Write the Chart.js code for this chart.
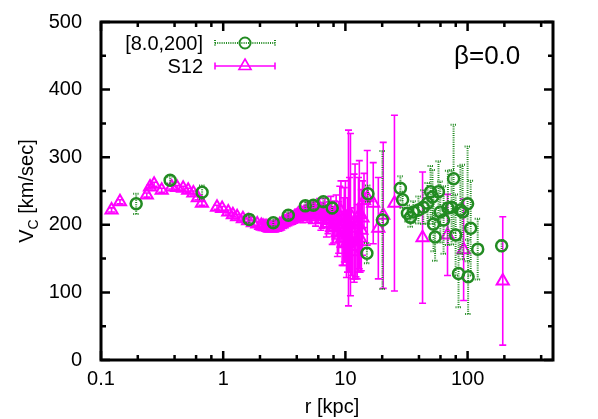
<!DOCTYPE html>
<html><head><meta charset="utf-8">
<script src="https://cdn.jsdelivr.net/npm/chart.js@4.4.1/dist/chart.umd.min.js"></script>
<style>html,body{margin:0;padding:0;background:#fff;}canvas{display:block;}</style>
</head><body>
<canvas id="c" width="598" height="419"></canvas>
<script>
const FONT = "'Liberation Sans', Arial, Helvetica, sans-serif";

// ---- data ----
const greenLabel = '[8.0,200]';
const greenR   = [0.194,0.368,0.672,1.63,2.57,3.41,4.7,5.47,6.6,7.8,15.3,15.0,20.1,28.2,29.4,32.2,34.1,36.0,39.6,43.4,47.0,49.8,51.6,52.6,54.2,57.8,59.8,63.6,69.0,74.0,76.8,79.8,84.3,87.3,91.0,100,101,106,121,190];
const greenV   = [231,266,248,208,203,214,228,229,234,225,246,158,207,254,237,217,211,219,222,226,232,249,241,201,182,249,219,207,225,226,268,185,128,222,219,231,123,195,164,169];
const greenErr = [15,5,10,5,5,5,6,6,6,8,12,15,102,18,12,12,14,16,20,25,30,38,40,40,35,45,45,50,55,55,80,60,50,65,70,85,55,70,45,8];

const s12Label = 'S12';
const s12R   = [0.122,0.143,0.237,0.252,0.272,0.314,0.379,0.42,0.47,0.517,0.57,0.62,0.67,0.89,0.98,1.1,1.2,1.3,1.45,1.6,1.75,1.9,2.05,2.12,2.2,2.28,2.35,2.42,2.5,2.58,2.65,2.72,2.8,2.9,3.0,3.1,3.2,3.32,3.45,3.58,3.7,3.82,3.95,4.07,4.2,4.35,4.5,4.65,4.8,4.95,5.1,5.25,5.4,5.55,5.7,5.85,6.0,6.15,6.3,6.45,6.6,6.8,7.0,7.2,7.4,7.6,7.8,8.0,8.2,8.4,8.6,8.8,9.0,9.2,9.4,9.6,9.8,10.0,10.2,10.4,10.6,10.8,11.0,11.2,11.5,11.8,12.0,12.2,12.5,12.8,13.0,13.2,13.5,13.8,14.2,15.1,16.9,18.6,20.4,25.2,42.8,68.5,92.8,194];
const s12V   = [222,234,244,256,260,251,256,255,254,251,247,240,232,226,224,219,215,212,209,206,203,201,199,198,197,197,196,195,195,196,196,197,198,200,201,203,204,206,207,208,209,211,212,214,215,217,213,216,219,222,216,214,221,223,212,216,218,224,208,212,215,220,202,208,212,218,196,200,207,214,188,196,212,220,180,190,200,205,172,185,210,200,215,175,160,195,205,168,175,200,215,180,192,210,236,240,232,195,214,232,181,185,163,117];
const s12Err = [3,3,3,3,3,3,3,3,3,3,3,3,3,3,3,3,3,3,4,4,4,4,4,4,5,5,5,5,5,5,5,6,6,6,6,7,7,7,7,8,8,8,8,9,9,10,10,10,10,11,12,12,12,13,14,14,15,15,16,17,18,19,20,21,22,24,25,27,28,30,35,38,45,45,40,50,55,60,50,55,130,70,120,50,40,80,85,45,55,70,80,50,60,55,40,70,60,75,108,130,97,60,75,95];

const xTickValues = [0.1, 1, 10, 100];
const yTickValues = [0, 100, 200, 300, 400, 500];
const xTitle = 'r [kpc]';
const yTitleParts = ['V', 'C', ' [km/sec]'];
const annotationText = 'β=0.0';

const GREEN = '#228b22';
const MAGENTA = '#ff00ff';

function toPoints(rs, vs) { return rs.map((r, i) => ({ x: r, y: vs[i] })); }

const errorBars = {
  id: 'errorBars',
  beforeDatasetDraw(chart, args) {
    const ds = chart.data.datasets[args.index];
    if (!ds.errors) return;
    const xs = chart.scales.x, ys = chart.scales.y, ctx = chart.ctx, a = chart.chartArea;
    ctx.save();
    ctx.beginPath(); ctx.rect(a.left, a.top, a.right - a.left, a.bottom - a.top); ctx.clip();
    ctx.strokeStyle = ds.borderColor;
    ctx.lineWidth = ds.errLineWidth;
    ctx.setLineDash(ds.errDash);
    const cap = ds.errCap;
    ds.data.forEach((p, i) => {
      const e = ds.errors[i];
      const px = xs.getPixelForValue(p.x);
      const y1 = ys.getPixelForValue(p.y - e), y2 = ys.getPixelForValue(p.y + e);
      ctx.beginPath();
      ctx.moveTo(px, y1); ctx.lineTo(px, y2);
      ctx.moveTo(px - cap, y1); ctx.lineTo(px + cap, y1);
      ctx.moveTo(px - cap, y2); ctx.lineTo(px + cap, y2);
      ctx.stroke();
    });
    ctx.restore();
  }
};

const decor = {
  id: 'decor',
  afterDraw(chart) {
    const ctx = chart.ctx, a = chart.chartArea, xs = chart.scales.x, ys = chart.scales.y;
    ctx.save();
    ctx.strokeStyle = '#000';
    ctx.lineWidth = 2.5;
    const major = 9, minor = 5;
    ctx.beginPath();
    xTickValues.forEach(d => {
      const px = xs.getPixelForValue(d);
      ctx.moveTo(px, a.bottom); ctx.lineTo(px, a.bottom - major);
      ctx.moveTo(px, a.top); ctx.lineTo(px, a.top + major);
      [2, 4, 6, 8].forEach(m => {
        const v = m * d;
        if (v >= xs.max) return;
        const q = xs.getPixelForValue(v);
        ctx.moveTo(q, a.bottom); ctx.lineTo(q, a.bottom - minor);
        ctx.moveTo(q, a.top); ctx.lineTo(q, a.top + minor);
      });
    });
    yTickValues.forEach((v, i) => {
      const py = ys.getPixelForValue(v);
      ctx.moveTo(a.left, py); ctx.lineTo(a.left + major, py);
      ctx.moveTo(a.right, py); ctx.lineTo(a.right - major, py);
      if (i < yTickValues.length - 1) {
        const q = ys.getPixelForValue((v + yTickValues[i + 1]) / 2);
        ctx.moveTo(a.left, q); ctx.lineTo(a.left + minor, q);
        ctx.moveTo(a.right, q); ctx.lineTo(a.right - minor, q);
      }
    });
    ctx.stroke();
    ctx.lineWidth = 3;
    ctx.strokeRect(a.left, a.top, a.right - a.left, a.bottom - a.top);

    ctx.fillStyle = '#000';
    ctx.font = '20px ' + FONT;
    ctx.textAlign = 'center';
    ctx.textBaseline = 'alphabetic';
    ctx.fillText(xTitle, (a.left + a.right) / 2 + 5, 413);

    ctx.save();
    ctx.translate(33, (a.top + a.bottom) / 2);
    ctx.rotate(-Math.PI / 2);
    ctx.font = '20px ' + FONT;
    const w0 = ctx.measureText(yTitleParts[0]).width;
    ctx.font = '14px ' + FONT;
    const w1 = ctx.measureText(yTitleParts[1]).width;
    ctx.font = '20px ' + FONT;
    const w2 = ctx.measureText(yTitleParts[2]).width;
    let sx = -(w0 + w1 + w2) / 2;
    ctx.textAlign = 'left';
    ctx.fillText(yTitleParts[0], sx, 0); sx += w0;
    ctx.font = '14px ' + FONT;
    ctx.fillText(yTitleParts[1], sx, 5); sx += w1;
    ctx.font = '20px ' + FONT;
    ctx.fillText(yTitleParts[2], sx, 0);
    ctx.restore();

    ctx.font = '26px ' + FONT;
    ctx.textAlign = 'left';
    ctx.fillText(annotationText, 454, 64);

    const dsets = chart.data.datasets;
    const rows = [43, 66];
    const tx = 203, l0 = 215, l1 = 275, mx = 245;
    dsets.forEach((ds, i) => {
      const y = rows[i];
      ctx.fillStyle = '#000';
      ctx.font = '20px ' + FONT;
      ctx.textAlign = 'right';
      ctx.textBaseline = 'middle';
      ctx.fillText(ds.label, tx, y + 1);
      ctx.strokeStyle = ds.borderColor;
      ctx.lineWidth = ds.errLineWidth;
      ctx.setLineDash(ds.errDash);
      ctx.beginPath();
      ctx.moveTo(l0, y); ctx.lineTo(l1, y);
      ctx.moveTo(l0, y - ds.errCap); ctx.lineTo(l0, y + ds.errCap);
      ctx.moveTo(l1, y - ds.errCap); ctx.lineTo(l1, y + ds.errCap);
      ctx.stroke();
      ctx.setLineDash([]);
      ctx.fillStyle = 'rgba(0,0,0,0)';
      ctx.strokeStyle = ds.borderColor;
      Chart.helpers.drawPoint(ctx, {
        pointStyle: ds.pointStyle, radius: ds.pointRadius, borderWidth: ds.pointBorderWidth, rotation: 0
      }, mx, y);
    });
    ctx.restore();
  }
};

new Chart(document.getElementById('c'), {
  type: 'scatter',
  data: {
    datasets: [
      {
        label: greenLabel,
        data: toPoints(greenR, greenV),
        errors: greenErr,
        borderColor: GREEN,
        backgroundColor: 'rgba(0,0,0,0)',
        pointStyle: 'circle',
        pointRadius: 5.5,
        pointBorderWidth: 2.5,
        errLineWidth: 2,
        errDash: [1, 1.2],
        errCap: 3,
        showLine: false
      },
      {
        label: s12Label,
        data: toPoints(s12R, s12V),
        errors: s12Err,
        borderColor: MAGENTA,
        backgroundColor: 'rgba(0,0,0,0)',
        pointStyle: 'triangle',
        pointRadius: 7,
        pointBorderWidth: 2,
        errLineWidth: 1.6,
        errDash: [],
        errCap: 3.5,
        showLine: false
      }
    ]
  },
  options: {
    responsive: false,
    animation: false,
    devicePixelRatio: 1,
    events: [],
    layout: { padding: { top: 22, right: 45, left: 0, bottom: 0 } },
    plugins: { legend: { display: false }, tooltip: { enabled: false } },
    scales: {
      x: {
        type: 'logarithmic',
        min: 0.1, max: 500,
        afterFit(s) { s.height = 59; s.paddingLeft = 0; s.paddingRight = 0; },
        afterBuildTicks(s) { s.ticks = xTickValues.map(v => ({ value: v })); },
        grid: { display: false, drawTicks: false },
        border: { display: false },
        ticks: {
          padding: 7,
          color: '#000',
          font: { family: FONT, size: 20 },
          maxRotation: 0,
          autoSkip: false,
          callback: (v) => String(v)
        }
      },
      y: {
        type: 'linear',
        min: 0, max: 500,
        afterFit(s) { s.width = 101; s.paddingTop = 0; s.paddingBottom = 0; },
        afterBuildTicks(s) { s.ticks = yTickValues.map(v => ({ value: v })); },
        grid: { display: false, drawTicks: false },
        border: { display: false },
        ticks: {
          padding: 19,
          color: '#000',
          font: { family: FONT, size: 20 },
          callback: (v) => String(v)
        }
      }
    }
  },
  plugins: [errorBars, decor]
});
</script>
</body></html>
